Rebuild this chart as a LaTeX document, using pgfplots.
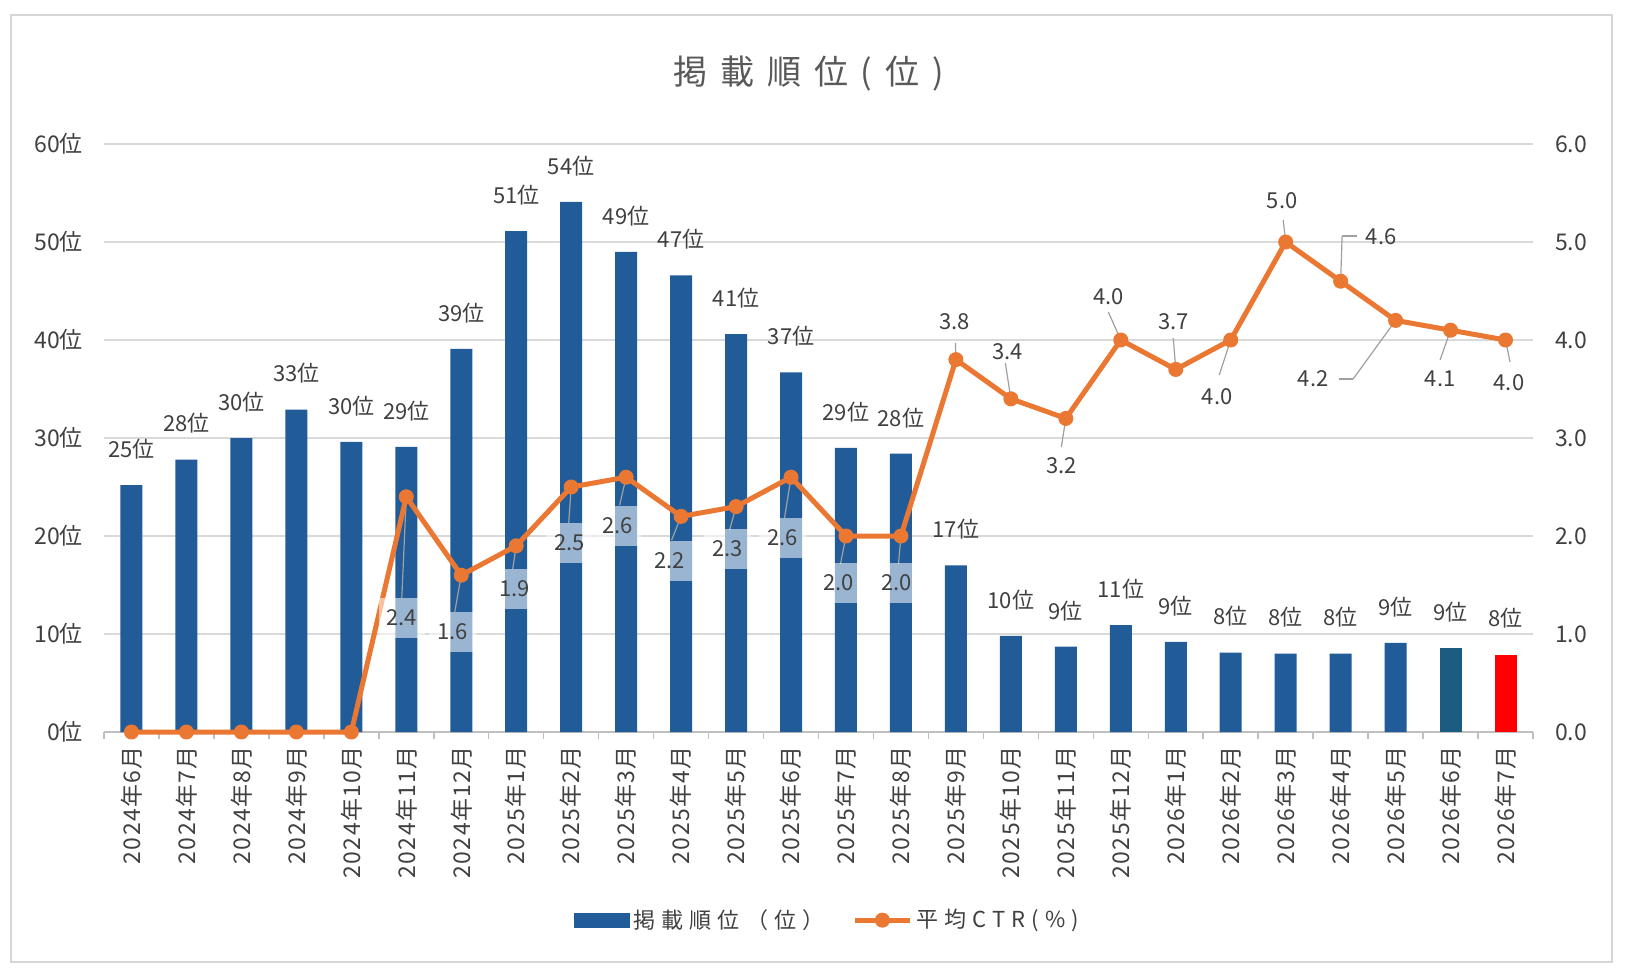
\documentclass[border=0pt]{standalone}
\usepackage{fontspec}
\setmainfont{Noto Sans CJK JP}
\newfontfamily\titlefont{Noto Sans CJK JP}[LetterSpace=38]
\newfontfamily\legfont{Noto Sans CJK JP}[LetterSpace=28]
\newfontfamily\xlabfont{Noto Sans CJK JP}[LetterSpace=6]
\usepackage{pgfplots}
\usepackage{pgfplotstable}
\pgfplotsset{compat=1.18}
\pgfplotsset{/pgf/number format/assume math mode=true}
\definecolor{barblue}{RGB}{33,92,153}
\definecolor{barteal}{RGB}{27,92,128}
\definecolor{barred}{RGB}{255,0,0}
\definecolor{ctrorange}{RGB}{235,120,50}
\definecolor{gridgray}{RGB}{217,217,217}
\definecolor{axisgray}{RGB}{191,191,191}
\definecolor{framegray}{RGB}{214,214,214}
\definecolor{leadergray}{RGB}{160,160,160}
\definecolor{textgray}{RGB}{64,64,64}
\definecolor{titlegray}{RGB}{89,89,89}

\pgfplotsset{
  ctrlegend/.style={legend image code/.code={\draw[mark repeat=2, mark phase=2, ##1] plot coordinates {(0pt,0pt) (13.75pt,0pt) (27.5pt,0pt)};}},
  barlegend/.style={legend image code/.code={\fill[barblue] (0pt,-3.5pt) rectangle (27.5pt,3.5pt);}},
}

\pgfplotstableread{
x rank ctr
0 25.2 0
1 27.8 0
2 30.0 0
3 32.9 0
4 29.6 0
5 29.1 2.4
6 39.1 1.6
7 51.1 1.9
8 54.1 2.5
9 49.0 2.6
10 46.6 2.2
11 40.6 2.3
12 36.7 2.6
13 29.0 2.0
14 28.4 2.0
15 17.0 3.8
16 9.8 3.4
17 8.7 3.2
18 10.9 4.0
19 9.2 3.7
20 8.1 4.0
21 8.0 5.0
22 8.0 4.6
23 9.1 4.2
24 8.6 4.1
25 7.9 4.0
}\data

\pgfplotstableread{
x ctr lx ly
5 2.4 4.918 1.163
6 1.6 5.845 1.020
7 1.9 6.973 1.459
8 2.5 7.973 1.929
9 2.6 8.845 2.102
10 2.2 9.791 1.745
11 2.3 10.845 1.867
12 2.6 11.845 1.980
13 2.0 12.864 1.520
14 2.0 13.918 1.520
}\boxlab

\pgfplotstableread{
x ctr lx ly
15 3.8 14.973 4.184
16 3.4 15.936 3.878
17 3.2 16.918 2.714
18 4.0 17.773 4.439
19 3.7 18.955 4.184
20 4.0 19.755 3.418
21 5.0 20.936 5.418
22 4.6 22.736 5.051
23 4.2 21.500 3.602
24 4.1 23.809 3.602
25 4.0 25.064 3.561
}\plainlab

\pgfplotstableread{
x y u v
5 2.4 -0.082 -1.033
6 1.6 -0.118 -0.376
7 1.9 -0.064 -0.237
8 2.5 -0.045 -0.367
9 2.6 -0.118 -0.284
10 2.2 -0.173 -0.241
11 2.3 -0.118 -0.239
12 2.6 -0.118 -0.416
13 2.0 -0.100 -0.286
14 2.0 -0.045 -0.286
15 3.8 -0.009 0.169
16 3.4 -0.100 0.365
17 3.2 -0.082 -0.292
18 4.0 -0.227 0.286
19 3.7 -0.045 0.320
20 4.0 -0.209 -0.357
21 5.0 -0.045 0.224
22 4.6 0.027 0.461
22.027 5.061 0.273 0
23 4.2 -0.773 -0.598
22.227 3.602 -0.254 0
24 4.1 -0.191 -0.304
25 4.0 0.082 -0.224
}\leaders

\newcommand{\lblfont}{\fontsize{11pt}{13pt}\selectfont}

\begin{document}
\begin{tikzpicture}
\useasboundingbox (0,0) rectangle (813pt,488pt);
\fill[white] (0,0) rectangle (813pt,488pt);
\draw[framegray, line width=1pt] (5.5pt,7pt) rectangle (806pt,480.5pt);

\begin{axis}[
  at={(52pt,122pt)}, anchor=south west,
  scale only axis, width=714.5pt, height=294pt,
  xmin=-0.5, xmax=25.5, ymin=0, ymax=60,
  ybar, bar width=11pt,
  axis line style={draw=none},
  ytick={0,10,...,60},
  yticklabel={\pgfmathprintnumber{\tick}位},
  ymajorgrids, grid style={draw=gridgray, line width=0.75pt},
  extra y ticks={0}, extra y tick labels={},
  extra y tick style={grid style={draw=axisgray, line width=0.75pt}},
  xtick={0,...,25},
  xticklabels={2024年6月,2024年7月,2024年8月,2024年9月,2024年10月,2024年11月,2024年12月,2025年1月,2025年2月,2025年3月,2025年4月,2025年5月,2025年6月,2025年7月,2025年8月,2025年9月,2025年10月,2025年11月,2025年12月,2026年1月,2026年2月,2026年3月,2026年4月,2026年5月,2026年6月,2026年7月},
  minor xtick={-0.5,0.5,...,25.5},
  xtick pos=bottom, ytick pos=left, tick align=outside,
  major tick length=0pt, minor tick length=3.5pt,
  minor tick style={draw=axisgray, line width=0.75pt},
  xticklabel style={yshift=-3.5pt, font=\xlabfont\fontsize{11.5pt}{13pt}\selectfont, text=textgray, rotate=90, anchor=east},
  yticklabel style={font=\fontsize{11.5pt}{13pt}\selectfont, text=textgray, xshift=-7pt},
  title={掲載順位(位)},
  title style={font=\titlefont\fontsize{17pt}{20pt}\selectfont, text=titlegray, at={(0.493,1.100)}, anchor=center},
  nodes near coords={\pgfmathprintnumber[fixed,precision=0]{\pgfplotspointmeta}位},
  nodes near coords style={font=\lblfont, text=textgray, anchor=center, yshift=18pt},
]
\addplot[fill=barblue, draw=none, bar shift=0pt, restrict x to domain=-1:23.5] table[x=x,y=rank]{\data};
\addplot[fill=barteal, draw=none, bar shift=0pt, restrict x to domain=23.5:24.5] table[x=x,y=rank]{\data};
\addplot[fill=barred, draw=none, bar shift=0pt, restrict x to domain=24.5:25.5] table[x=x,y=rank]{\data};
\end{axis}

\begin{axis}[
  at={(52pt,122pt)}, anchor=south west,
  scale only axis, width=714.5pt, height=294pt,
  xmin=-0.5, xmax=25.5, ymin=0, ymax=6,
  clip=false,
  hide x axis,
  axis line style={draw=none},
  ytick={0,1,...,6},
  ytick pos=right, yticklabel pos=right,
  major tick length=0pt,
  yticklabel={\pgfmathprintnumber[fixed,fixed zerofill,precision=1]{\tick}},
  yticklabel style={font=\fontsize{11.5pt}{13pt}\selectfont, text=textgray, xshift=7.5pt},
  legend columns=2,
  legend style={at={(0.507,-0.32)}, anchor=center, draw=none, fill=none,
    font=\legfont\fontsize{11pt}{13pt}\selectfont, text=textgray,
    /tikz/every even column/.append style={column sep=12pt}},
]
\addlegendimage{barlegend}
\addlegendentry{掲載順位（位）}
\addplot[forget plot, draw=leadergray, line width=0.6pt, quiver={u=\thisrow{u},v=\thisrow{v}}] table[x=x,y=y]{\leaders};
\addplot[draw=ctrorange, line width=2.5pt, line join=round, mark=*, mark size=3.5pt,
  mark options={fill=ctrorange, draw=ctrorange, line width=0.5pt}, ctrlegend]
  table[x=x,y=ctr]{\data};
\addlegendentry{平均CTR(\%)}
\addplot[forget plot, draw=none, mark=none, point meta=explicit,
  nodes near coords={\pgfmathprintnumber[fixed,fixed zerofill,precision=1]{\pgfplotspointmeta}},
  nodes near coords style={font=\lblfont, text=textgray, anchor=center, fill=white, fill opacity=0.55, text opacity=1, minimum height=20pt, inner xsep=4pt}]
  table[x=lx,y=ly,meta=ctr]{\boxlab};
\addplot[forget plot, draw=none, mark=none, point meta=explicit,
  nodes near coords={\pgfmathprintnumber[fixed,fixed zerofill,precision=1]{\pgfplotspointmeta}},
  nodes near coords style={font=\lblfont, text=textgray, anchor=center}]
  table[x=lx,y=ly,meta=ctr]{\plainlab};
\end{axis}
\end{tikzpicture}
\end{document}
